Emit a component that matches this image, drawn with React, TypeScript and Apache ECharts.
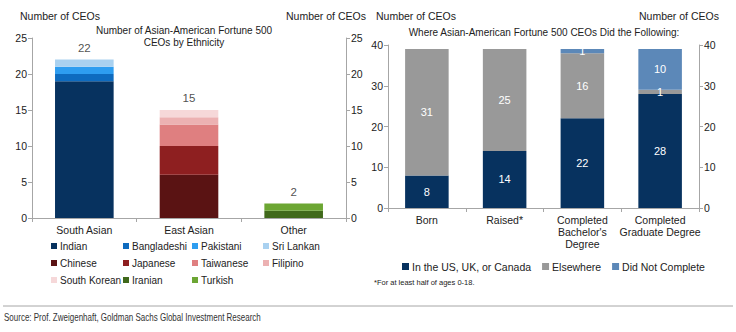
import React, { useEffect, useRef } from "react";
import * as echarts from "echarts";

const ethnicCategories = ["South Asian", "East Asian", "Other"];
const indian = [19, null, null];
const bangladeshi = [1, null, null];
const pakistani = [1, null, null];
const sriLankan = [1, null, null];
const chinese = [null, 6, null];
const japanese = [null, 4, null];
const taiwanese = [null, 3, null];
const filipino = [null, 1, null];
const southKorean = [null, 1, null];
const iranian = [null, null, 1];
const turkish = [null, null, 1];

const stageCategories = ["Born", "Raised*", "Completed\nBachelor's\nDegree", "Completed\nGraduate Degree"];
const inUsUkCanada = [8, 14, 22, 28];
const elsewhere = [31, 25, 16, 1];
const didNotComplete = [null, null, 1, 10];

const leftTicks = [0, 5, 10, 15, 20, 25];
const rightTicks = [0, 10, 20, 30, 40];

const FONT = "Liberation Sans, Arial, sans-serif";

export default function App() {
  const ref = useRef<HTMLDivElement>(null);
  useEffect(() => {
    if (!ref.current) return;
    const chart = echarts.init(ref.current, undefined, { renderer: "svg" });

    const ethnic = [
      { name: "Indian", data: indian, color: "#07325f" },
      { name: "Bangladeshi", data: bangladeshi, color: "#0e6bbf" },
      { name: "Pakistani", data: pakistani, color: "#2e9df0" },
      { name: "Sri Lankan", data: sriLankan, color: "#a9d1f0" },
      { name: "Chinese", data: chinese, color: "#5a1313" },
      { name: "Japanese", data: japanese, color: "#8e1f20" },
      { name: "Taiwanese", data: taiwanese, color: "#df7f80" },
      { name: "Filipino", data: filipino, color: "#ecb1b2" },
      { name: "South Korean", data: southKorean, color: "#f6d8d9" },
      { name: "Iranian", data: iranian, color: "#40691b" },
      { name: "Turkish", data: turkish, color: "#6ca633" },
    ];
    const totals = ethnicCategories.map((_, i) =>
      ethnic.reduce((s, e) => s + ((e.data[i] as number) || 0), 0)
    );

    const stages = [
      { name: "In the US, UK, or Canada", data: inUsUkCanada, color: "#07325f" },
      { name: "Elsewhere", data: elsewhere, color: "#999999" },
      { name: "Did Not Complete", data: didNotComplete, color: "#5c88b8" },
    ];

    const axisLine = { show: true, lineStyle: { color: "#a6a6a6", width: 1 } };
    const axisTick = { show: true, length: 4, lineStyle: { color: "#a6a6a6" } };
    const axisLabel = { color: "#222", fontSize: 10.5, fontFamily: FONT, margin: 5 };

    const legendText = { color: "#222", fontSize: 10, fontFamily: FONT, padding: [0, 0, 0, -2] };
    const leftLegendCols = [
      { left: 51, data: ["Indian", "Chinese", "South Korean"] },
      { left: 123, data: ["Bangladeshi", "Japanese", "Iranian"] },
      { left: 192, data: ["Pakistani", "Taiwanese", "Turkish"] },
      { left: 263, data: ["Sri Lankan", "Filipino"] },
    ];

    const option: any = {
      animation: false,
      textStyle: { fontFamily: FONT },
      grid: [
        { left: 32, right: 390, top: 38, bottom: 114 },
        { left: 388, right: 37, top: 45, bottom: 124 },
      ],
      xAxis: [
        {
          gridIndex: 0,
          type: "category",
          data: ethnicCategories,
          axisLine,
          axisTick,
          axisLabel: { ...axisLabel, margin: 6, interval: 0 },
        },
        {
          gridIndex: 1,
          type: "category",
          data: stageCategories,
          axisLine,
          axisTick,
          axisLabel: { ...axisLabel, margin: 6, lineHeight: 12, interval: 0 },
        },
      ],
      yAxis: [
        { gridIndex: 0, type: "value", min: leftTicks[0], max: leftTicks[leftTicks.length - 1], interval: 5, position: "left", axisLine, axisTick, axisLabel, splitLine: { show: false } },
        { gridIndex: 0, type: "value", min: leftTicks[0], max: leftTicks[leftTicks.length - 1], interval: 5, position: "right", axisLine, axisTick, axisLabel, splitLine: { show: false } },
        { gridIndex: 1, type: "value", min: rightTicks[0], max: rightTicks[rightTicks.length - 1], interval: 10, position: "left", axisLine, axisTick, axisLabel, splitLine: { show: false } },
        { gridIndex: 1, type: "value", min: rightTicks[0], max: rightTicks[rightTicks.length - 1], interval: 10, position: "right", axisLine, axisTick, axisLabel, splitLine: { show: false } },
      ],
      legend: [
        ...leftLegendCols.map((c) => ({
          orient: "vertical",
          left: c.left,
          top: 241,
          padding: 0,
          itemWidth: 6,
          itemHeight: 6,
          itemGap: 7,
          icon: "rect",
          textStyle: legendText,
          data: c.data,
        })),
        {
          orient: "horizontal",
          left: 402,
          top: 261,
          padding: 0,
          width: 330,
          itemWidth: 7,
          itemHeight: 7,
          itemGap: 11,
          icon: "rect",
          textStyle: { ...legendText, fontSize: 10.5 },
          data: stages.map((s) => s.name),
        },
      ],
      series: [
        ...ethnic.map((e) => ({
          type: "bar",
          name: e.name,
          stack: "ethnic",
          xAxisIndex: 0,
          yAxisIndex: 0,
          barWidth: "56%",
          data: e.data,
          itemStyle: { color: e.color },
        })),
        {
          type: "scatter",
          name: "total",
          xAxisIndex: 0,
          yAxisIndex: 0,
          symbolSize: 0,
          data: totals,
          label: { show: true, position: "top", distance: 6, color: "#222", fontSize: 11.5, fontFamily: FONT },
        },
        ...stages.map((s) => ({
          type: "bar",
          name: s.name,
          stack: "stage",
          xAxisIndex: 1,
          yAxisIndex: 2,
          barWidth: "56%",
          data: s.data,
          itemStyle: { color: s.color },
          label: {
            show: true,
            position: "inside",
            color: "#fff",
            fontSize: 11,
            fontFamily: FONT,
            formatter: (p: any) => (p.value ? String(p.value) : ""),
          },
        })),
      ],
      graphic: [
        { type: "text", left: 20, top: 10, style: { text: "Number of CEOs", fontSize: 10.5, fill: "#222", fontFamily: FONT } },
        { type: "text", left: 286, top: 10, style: { text: "Number of CEOs", fontSize: 10.5, fill: "#222", fontFamily: FONT } },
        { type: "text", x: 184, y: 24, style: { text: "Number of Asian-American Fortune 500\nCEOs by Ethnicity", fontSize: 10, lineHeight: 12, fill: "#222", align: "center", fontFamily: FONT } },
        { type: "text", left: 376, top: 10, style: { text: "Number of CEOs", fontSize: 10.5, fill: "#222", fontFamily: FONT } },
        { type: "text", left: 639, top: 10, style: { text: "Number of CEOs", fontSize: 10.5, fill: "#222", fontFamily: FONT } },
        { type: "text", x: 544, y: 27, style: { text: "Where Asian-American Fortune 500 CEOs Did the Following:", fontSize: 10, fill: "#222", align: "center", fontFamily: FONT } },
        { type: "text", left: 374, top: 278, style: { text: "*For at least half of ages 0-18.", fontSize: 7.5, fill: "#222", fontFamily: FONT } },
        { type: "line", shape: { x1: 3, y1: 306, x2: 733, y2: 306 }, style: { stroke: "#a6a6a6", lineWidth: 1 } },
        { type: "text", x: 4, y: 313, scaleX: 0.8, style: { text: "Source: Prof. Zweigenhaft, Goldman Sachs Global Investment Research", fontSize: 10, fill: "#333", fontFamily: FONT } },
      ],
    };
    chart.setOption(option);
    return () => chart.dispose();
  }, []);
  return (
    <div
      ref={ref}
      style={{ position: "fixed", left: 0, top: 0, width: 736, height: 332, background: "#fff" }}
    />
  );
}
